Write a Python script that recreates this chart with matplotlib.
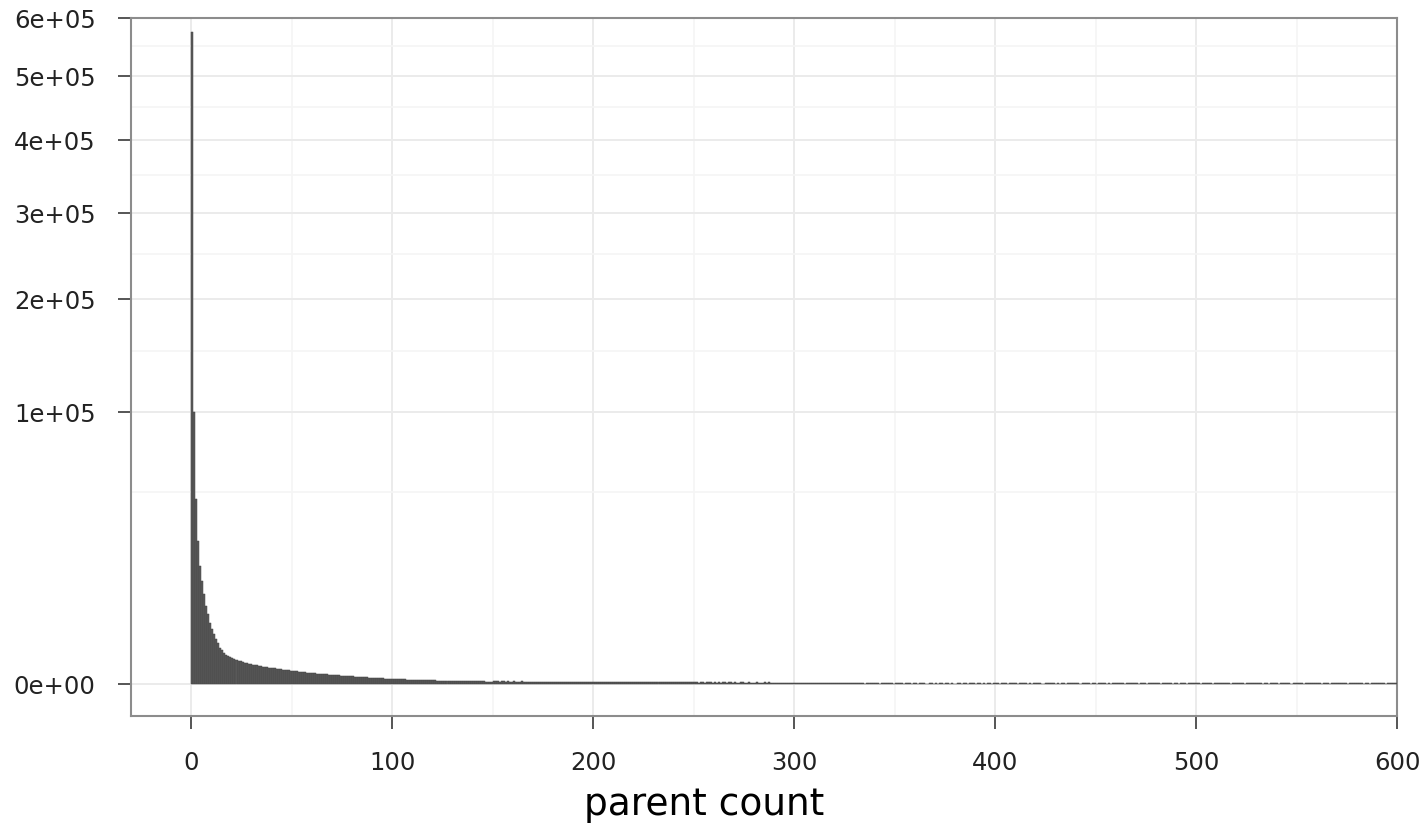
#!/usr/bin/env python3
"""Histogram of parent counts, square-root y axis (ggplot look)."""

import numpy as np
import matplotlib
matplotlib.use("Agg")
import matplotlib.pyplot as plt
from matplotlib.ticker import FixedLocator

# ---------------------------------------------------------------------------
# Data: bar heights for bins [i, i+1)
# ---------------------------------------------------------------------------
head_counts = [
    575000, 100000, 46500, 27800, 18900, 14400, 11000, 8300, 6700, 5100,
    4150, 3450, 2800, 2250, 1800, 1550, 1300, 1150, 1040, 960,
    890, 830, 780, 735, 695, 660, 625, 595, 565, 540,
    515, 492, 470, 450, 432, 414, 397, 381, 366, 352,
    338, 330, 318, 305, 295, 282, 270, 260, 250, 240,
    231, 222, 214, 206, 199, 192, 185, 178, 174, 168,
    162, 155, 149, 144, 139, 134, 129, 124, 120, 116,
    112, 108, 104, 100, 97, 93, 90, 86, 83, 80,
    77, 74, 71, 68, 66, 63, 61, 58, 56, 54,
    52, 50, 48, 46, 44, 42, 41, 39, 38, 36,
    35, 34, 33, 31, 30, 29, 28, 27, 26, 25,
    24, 23, 22, 21, 21, 20, 19, 19, 18, 18,
    17, 17, 16, 16, 15, 15, 15, 14, 14, 13,
    13, 13, 12, 12, 12, 11, 11, 11, 10, 10,
    10, 10, 9, 9, 9, 9, 8, 8, 8, 8,
]
tail_150_199 = [
    11, 9, 10, 8, 9, 10, 8, 9, 8, 7, 9, 8, 8, 7, 9, 7, 8, 8, 6, 8,
    7, 8, 7, 7, 6, 8, 7, 6, 7, 8, 6, 7, 7, 6, 5, 7, 6, 7, 6, 6,
    7, 5, 6, 6, 7, 5, 6, 6, 5, 6,
]
tail_200_299 = [
    6, 5, 6, 5, 6, 7, 5, 5, 6, 5, 5, 6, 4, 5, 6, 5, 5, 4, 6, 5,
    5, 4, 5, 5, 6, 4, 5, 5, 4, 5, 5, 4, 5, 4, 5, 5, 4, 6, 4, 5,
    4, 5, 4, 5, 4, 4, 5, 4, 5, 4, 4, 5, 3, 4, 5, 3, 4, 5, 4, 3,
    4, 3, 5, 3, 4, 4, 3, 4, 4, 3, 4, 3, 3, 4, 4, 3, 2, 4, 3, 3,
    3, 4, 3, 2, 3, 4, 2, 4, 3, 2, 3, 3, 2, 3, 2, 3, 2, 3, 3, 2,
]
tail_300_399 = [
    3, 2, 3, 2, 2, 3, 2, 3, 2, 2, 3, 2, 2, 3, 2, 2, 3, 2, 2, 2,
    3, 2, 2, 2, 3, 2, 2, 1, 2, 3, 2, 2, 2, 3, 1, 0, 2, 2, 3, 2,
    2, 1, 0, 2, 3, 2, 1, 2, 2, 0, 2, 1, 2, 2, 0, 1, 2, 2, 0, 1,
    2, 0, 1, 2, 1, 0, 0, 2, 1, 0, 2, 0, 1, 2, 0, 1, 2, 0, 1, 0,
    0, 1, 2, 0, 1, 2, 0, 2, 1, 2, 0, 1, 2, 0, 1, 0, 2, 1, 0, 2,
]
tail_400_499 = [
    2, 1, 0, 2, 1, 2, 0, 1, 2, 1, 2, 0, 1, 2, 1, 2, 0, 1, 0, 2,
    1, 2, 1, 0, 0, 2, 1, 2, 1, 2, 0, 1, 0, 2, 1, 0, 2, 1, 2, 1,
    2, 1, 0, 2, 1, 2, 1, 0, 2, 1, 0, 2, 1, 2, 1, 0, 2, 0, 1, 2,
    2, 1, 2, 1, 0, 2, 1, 2, 1, 2, 1, 0, 2, 1, 2, 0, 1, 2, 1, 2,
    1, 2, 0, 1, 2, 1, 2, 1, 0, 2, 1, 0, 2, 1, 2, 0, 1, 2, 1, 2,
]
tail_500_599 = [
    2, 1, 0, 2, 1, 2, 1, 2, 0, 1, 2, 1, 2, 1, 2, 1, 2, 0, 1, 2,
    1, 2, 1, 2, 0, 1, 2, 1, 2, 1, 2, 1, 2, 0, 1, 2, 0, 1, 2, 1,
    2, 0, 1, 2, 1, 2, 1, 0, 2, 1, 2, 1, 2, 0, 1, 2, 1, 2, 1, 2,
    1, 2, 0, 1, 2, 1, 0, 2, 1, 2, 1, 2, 1, 2, 1, 0, 2, 1, 2, 1,
    2, 1, 2, 0, 1, 2, 0, 1, 2, 1, 2, 1, 2, 1, 0, 2, 1, 2, 1, 2,
]

y_ticks = [0, 100000, 200000, 300000, 400000, 500000, 600000]
y_tick_labels = ["0e+00", "1e+05", "2e+05", "3e+05", "4e+05", "5e+05", "6e+05"]
y_minor = [50000, 150000, 250000, 350000, 450000, 550000]
x_ticks = [0, 100, 200, 300, 400, 500, 600]
x_minor = [50, 150, 250, 350, 450, 550]
x_label = "parent count"


def sqrt_fwd(v):
    v = np.asarray(v, dtype=float)
    return np.sign(v) * np.sqrt(np.abs(v))


def sqrt_inv(v):
    v = np.asarray(v, dtype=float)
    return np.sign(v) * v ** 2


def main() -> None:
    counts = np.array(
        head_counts + tail_150_199 + tail_200_299 + tail_300_399
        + tail_400_499 + tail_500_599,
        dtype=float,
    )
    left_edges = np.arange(len(counts))

    fig = plt.figure(figsize=(14.28, 8.25), dpi=100)
    ax = fig.add_axes([131 / 1428, 1 - 716 / 825, (1397 - 131) / 1428, (716 - 18) / 825])

    ax.set_yscale("function", functions=(sqrt_fwd, sqrt_inv))
    ax.bar(left_edges, counts, width=1.0, align="edge",
           color="#595959", edgecolor="#454545", linewidth=0.35, zorder=3)

    ax.set_xlim(-30, 600)
    ax.set_ylim(-1384, 600000)

    # grid (ggplot-ish: light major, lighter minor)
    ax.xaxis.set_major_locator(FixedLocator(x_ticks))
    ax.xaxis.set_minor_locator(FixedLocator(x_minor))
    ax.yaxis.set_major_locator(FixedLocator(y_ticks))
    ax.yaxis.set_minor_locator(FixedLocator(y_minor))
    ax.set_yticklabels(y_tick_labels)
    ax.grid(which="major", color="#ebebeb", linewidth=1.4, zorder=0)
    ax.grid(which="minor", color="#f5f5f5", linewidth=1.2, zorder=0)
    ax.set_axisbelow(True)
    ax.tick_params(which="minor", length=0)
    ax.tick_params(which="major", direction="out", length=9.5, width=1.4,
                   colors="#555555", labelcolor="#222222", labelsize=17.5, pad=16)

    for s in ax.spines.values():
        s.set_color("#8c8c8c")
        s.set_linewidth(1.5)

    fig.text(704 / 1428, 1 - 805 / 825, x_label, ha="center", va="center",
             fontsize=27, color="#000000")

    fig.savefig("out.png", dpi=100)


if __name__ == "__main__":
    main()
